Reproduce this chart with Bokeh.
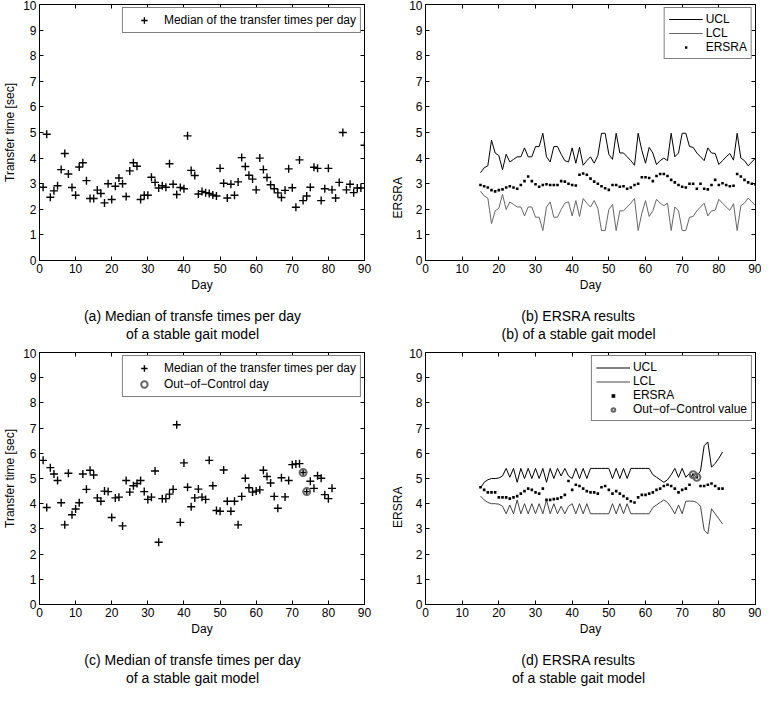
from bokeh.plotting import figure
from bokeh.layouts import column, row
from bokeh.models import (LinearAxis, Range1d, FixedTicker, Legend, LegendItem,
                          Title, CustomJSTickFormatter)
from bokeh.embed import file_html
from bokeh.resources import INLINE

FONT = "Liberation Sans"

x_ticks = [0, 10, 20, 30, 40, 50, 60, 70, 80, 90]
y_ticks = [0, 1, 2, 3, 4, 5, 6, 7, 8, 9, 10]

# ---------------- (a) ----------------
days_a = list(range(1, 91))
median_a = [2.86, 4.93, 2.47, 2.72, 2.92, 3.55, 4.18, 3.38, 2.85, 2.55,
            3.65, 3.82, 3.12, 2.42, 2.42, 2.75, 2.62, 2.25, 3.0, 2.38,
            2.9, 3.22, 3.0, 2.5, 3.5, 3.82, 3.68, 2.38, 2.55, 2.55,
            3.25, 3.05, 2.83, 2.92, 2.86, 3.78, 2.98, 2.58, 2.85, 2.8,
            4.87, 3.52, 3.32, 2.6, 2.7, 2.65, 2.62, 2.56, 2.52, 3.6,
            3.02, 2.44, 2.98, 2.55, 3.07, 4.02, 3.67, 3.33, 3.18, 2.76,
            4.0, 3.55, 3.24, 2.96, 2.8, 2.64, 2.46, 2.74, 3.58, 2.84,
            2.08, 3.93, 2.34, 2.52, 2.86, 3.64, 3.6, 2.34, 2.8, 3.6,
            2.76, 2.44, 3.05, 5.0, 2.76, 2.98, 2.65, 2.83, 2.83, 4.5]

# ---------------- (b) ----------------
days_b = list(range(15, 91))
ucl_b = [3.43, 3.62, 3.7, 4.7, 4.2, 4.1, 3.55, 4.15, 3.85, 3.95,
         4.05, 4.05, 4.4, 4.05, 4.05, 4.45, 4.45, 4.97, 4.05, 3.85,
         4.45, 4.45, 4.15, 3.9, 3.85, 4.4, 3.8, 4.42, 3.72, 3.9,
         4.05, 3.8, 4.1, 4.97, 4.97, 4.15, 3.95, 4.97, 4.2, 4.2,
         4.05, 3.9, 3.72, 4.97, 4.3, 3.8, 4.42, 4.2, 3.75, 3.9,
         4.0, 3.9, 4.97, 4.05, 4.2, 4.97, 4.97, 4.45, 4.42, 4.2,
         4.05, 3.9, 4.4, 4.2, 4.18, 3.75, 3.9, 4.05, 4.18, 3.92,
         4.97, 4.0, 3.9, 3.7, 3.85, 4.0]
lcl_b = [2.71, 2.52, 2.44, 1.44, 1.94, 2.04, 2.59, 1.99, 2.29, 2.19,
         2.09, 2.09, 1.74, 2.09, 2.09, 1.69, 1.69, 1.17, 2.09, 2.29,
         1.69, 1.69, 1.99, 2.24, 2.29, 1.74, 2.34, 1.72, 2.42, 2.24,
         2.09, 2.34, 2.04, 1.17, 1.17, 1.99, 2.19, 1.17, 1.94, 1.94,
         2.09, 2.24, 2.42, 1.17, 1.84, 2.34, 1.72, 1.94, 2.39, 2.24,
         2.14, 2.24, 1.17, 2.09, 1.94, 1.17, 1.17, 1.69, 1.72, 1.94,
         2.09, 2.24, 1.74, 1.94, 1.96, 2.39, 2.24, 2.09, 1.96, 2.22,
         1.17, 2.14, 2.24, 2.44, 2.29, 2.14]
ersra_b = [2.95, 2.9, 2.85, 2.75, 2.7, 2.75, 2.78, 2.85, 2.9, 2.85,
           2.8, 2.95, 3.1, 3.28, 3.1, 2.98, 2.88, 2.95, 2.98, 2.95,
           2.95, 2.95, 3.1, 3.08, 3.0, 2.95, 2.93, 3.35, 3.4, 3.35,
           3.2, 3.08, 3.0, 2.9, 2.82, 2.76, 2.95, 2.95, 2.88, 2.9,
           2.8, 2.85, 2.95, 3.0, 3.25, 3.25, 3.22, 3.1, 3.3, 3.38,
           3.38, 3.3, 3.15, 3.05, 2.95, 2.88, 2.85, 3.0, 3.0, 2.8,
           3.0, 2.8, 2.78, 2.95, 3.15, 2.95, 3.02, 2.95, 2.9, 2.92,
           3.38, 3.28, 3.15, 3.05, 3.0, 2.97]

# ---------------- (c) ----------------
days_c = list(range(1, 82))
median_c = [5.72, 3.85, 5.43, 5.18, 4.92, 4.04, 3.16, 5.21, 3.56, 3.79,
            4.04, 5.18, 4.57, 5.33, 5.14, 4.23, 4.1, 4.5, 4.48, 3.45,
            4.23, 4.26, 3.12, 4.92, 4.46, 4.71, 4.8, 4.92, 4.48, 4.17,
            4.26, 5.3, 2.47, 4.2, 4.2, 4.38, 4.57, 7.13, 3.26, 5.62,
            4.65, 3.88, 4.23, 4.58, 4.26, 4.17, 5.72, 4.71, 3.73, 3.7,
            5.34, 4.1, 3.7, 4.1, 3.16, 4.29, 5.01, 4.63, 4.46, 4.5,
            4.55, 5.33, 5.08, 4.82, 4.29, 3.82, 5.03, 4.27, 4.92, 5.55,
            5.58, 5.59, 5.24, 4.48, 4.89, 4.61, 5.11, 5.01, 4.36, 4.2,
            4.61]
ooc_days_c = [73, 74]
ooc_vals_c = [5.24, 4.48]

# ---------------- (d) ----------------
days_d = list(range(15, 82))
ucl_d = [4.62, 4.85, 4.95, 5.0, 5.0, 5.02, 5.1, 5.4, 5.05, 5.4,
         4.85, 5.4, 5.0, 5.4, 5.0, 5.4, 5.0, 5.4, 4.85, 5.4,
         5.0, 5.4, 5.1, 5.4, 5.1, 5.0, 5.4, 5.0, 5.4, 5.0,
         5.4, 5.4, 5.4, 5.4, 5.4, 5.4, 5.0, 5.4, 5.0, 5.4,
         5.0, 5.4, 5.4, 5.4, 5.4, 5.4, 5.4, 5.15, 5.05, 4.95,
         4.85, 4.95, 5.15, 5.4, 5.05, 5.4, 5.05, 5.2, 5.0, 5.1,
         5.3, 6.3, 6.45, 5.45, 5.6, 5.8, 6.05]
lcl_d = [4.3, 4.15, 4.05, 4.0, 4.0, 3.98, 3.9, 3.6, 3.95, 3.6,
         4.15, 3.6, 4.0, 3.6, 4.0, 3.6, 4.0, 3.6, 4.15, 3.6,
         4.0, 3.6, 3.9, 3.6, 3.9, 4.0, 3.6, 4.0, 3.6, 4.0,
         3.6, 3.6, 3.6, 3.6, 3.6, 3.6, 4.0, 3.6, 4.0, 3.6,
         4.0, 3.6, 3.6, 3.6, 3.6, 3.6, 3.6, 3.85, 3.95, 4.05,
         4.15, 4.05, 3.85, 3.6, 3.95, 3.6, 4.1, 4.1, 4.1, 4.05,
         3.9, 2.95, 2.8, 3.8, 3.6, 3.4, 3.2]
ersra_d = [4.65, 4.55, 4.45, 4.45, 4.45, 4.25, 4.25, 4.25, 4.2, 4.25,
           4.3, 4.4, 4.5, 4.6, 4.55, 4.45, 4.4, 4.6, 4.15, 4.15,
           4.18, 4.2, 4.25, 4.35, 4.9, 4.55, 4.75, 4.7, 4.6, 4.5,
           4.45, 4.45, 4.4, 4.65, 4.7, 4.55, 4.4, 4.5, 4.4, 4.3,
           4.2, 4.1, 4.05, 4.25, 4.35, 4.35, 4.4, 4.45, 4.55, 4.6,
           4.7, 4.75, 4.7, 4.6, 4.45, 4.55, 4.6, 4.75, 5.15, 5.05,
           4.7, 4.7, 4.75, 4.8, 4.7, 4.6, 4.6]
ooc_days_d = [73, 74]
ooc_vals_d = [5.15, 5.05]

captions = {
    "a": ["(a) Median of transfe times per day", "of a stable gait model"],
    "b": ["(b) ERSRA results", "(b) of a stable gait model"],
    "c": ["(c) Median of transfe times per day", "of a stable gait model"],
    "d": ["(d) ERSRA results", "of a stable gait model"],
}

FW, FH = 330, 256
CAP_SIZE = 14
CAP_CENTER = 153  # caption centre, px right of the frame's left edge

# Arial / Liberation Sans advance widths (per 1000 em) for text centring
_W = {"(": 333, ")": 333, " ": 278, "a": 556, "b": 556, "c": 500, "d": 556,
      "e": 556, "f": 278, "g": 556, "i": 222, "l": 222, "m": 833, "n": 556,
      "o": 556, "p": 556, "r": 333, "s": 500, "t": 278, "u": 556, "y": 500,
      "M": 833, "E": 667, "R": 722, "S": 667, "A": 667}


def text_width(s, size):
    return sum(_W.get(ch, 556) for ch in s) * size / 1000.0


def style_axis(ax, ticks):
    ax.ticker = FixedTicker(ticks=ticks)
    ax.major_tick_in = 4
    ax.major_tick_out = 0
    ax.minor_tick_line_color = None
    ax.axis_line_color = "black"
    ax.axis_line_width = 1
    ax.major_tick_line_color = "black"
    ax.major_label_text_font = FONT
    ax.major_label_text_font_size = "12px"
    ax.major_label_text_color = "black"
    ax.axis_label_text_font = FONT
    ax.axis_label_text_font_size = "12px"
    ax.axis_label_text_font_style = "normal"
    ax.axis_label_text_color = "black"


def make_fig(left, right, bottom, ylabel, caption, ylabel_center=None):
    p = figure(width=left + FW + right, height=4 + FH + bottom,
               x_range=Range1d(0, 90), y_range=Range1d(0, 10),
               output_backend="svg", toolbar_location=None,
               min_border_left=left, min_border_right=right,
               min_border_top=4, min_border_bottom=bottom)
    p.grid.visible = False
    p.outline_line_color = "black"
    p.outline_line_width = 1
    p.background_fill_color = "white"
    p.border_fill_color = "white"
    style_axis(p.xaxis[0], x_ticks)
    style_axis(p.yaxis[0], y_ticks)
    p.xaxis[0].axis_label = "Day"
    p.xaxis[0].major_label_standoff = 3
    p.xaxis[0].axis_label_standoff = 2
    p.yaxis[0].major_label_standoff = 3
    if ylabel_center is None:
        p.yaxis[0].axis_label = ylabel
        p.yaxis[0].axis_label_standoff = 3
    else:
        # y label placed off-centre (as in the original figure)
        off = ylabel_center * FH / 10.0 - text_width(ylabel, 12) / 2.0
        p.add_layout(Title(text=ylabel, align="left", offset=off, standoff=3,
                           vertical_align="bottom", text_font=FONT,
                           text_font_size="12px", text_font_style="normal",
                           text_color="black"), "left")
    for side, ticks in (("right", y_ticks), ("above", x_ticks)):
        ax = LinearAxis(formatter=CustomJSTickFormatter(code="return ''"))
        style_axis(ax, ticks)
        ax.major_label_text_font_size = "0px"
        ax.major_label_standoff = 0
        p.add_layout(ax, side)
    # gap between the "Day" label and the caption
    p.add_layout(Title(text=" ", text_font_size="1px", standoff=9), "below")
    for line in caption:
        off = CAP_CENTER - text_width(line, CAP_SIZE) / 2.0
        p.add_layout(Title(text=line, align="left", offset=off, standoff=0,
                           vertical_align="middle", text_font=FONT,
                           text_font_size="%dpx" % CAP_SIZE,
                           text_font_style="normal", text_color="black"),
                     "below")
    return p


def make_legend(items, glyph_h):
    return Legend(items=items, location="top_right", margin=3,
                  padding=4, spacing=0, label_height=14, glyph_height=glyph_h,
                  glyph_width=34, label_standoff=3,
                  label_text_font=FONT, label_text_font_size="12px",
                  label_text_color="black",
                  border_line_color="black", border_line_width=1,
                  background_fill_color="white", background_fill_alpha=1)


# (a)
pa = make_fig(34, 10, 88, "Transfer time [sec]", captions["a"])
ra = pa.scatter(days_a, median_a, marker="cross", size=8, line_color="black",
                line_width=1.4)
pa.add_layout(make_legend([LegendItem(label="Median of the transfer times per day",
                                      renderers=[ra])], 16))

# (b)
pb = make_fig(51, 6, 88, "ERSRA", captions["b"], ylabel_center=2.45)
rb1 = pb.line(days_b, ucl_b, line_color="black", line_width=1)
rb2 = pb.line(days_b, lcl_b, line_color="#666666", line_width=1)
rb3 = pb.scatter(days_b, ersra_b, marker="square", size=2.6, fill_color="black",
                 line_color=None)
pb.add_layout(make_legend([LegendItem(label="UCL", renderers=[rb1]),
                           LegendItem(label="LCL", renderers=[rb2]),
                           LegendItem(label="ERSRA", renderers=[rb3])], 6))

# (c)
pc = make_fig(34, 10, 78, "Transfer time [sec]", captions["c"])
rc1 = pc.scatter(days_c, median_c, marker="cross", size=8, line_color="black",
                 line_width=1.4)
rc2 = pc.scatter(ooc_days_c, ooc_vals_c, marker="circle", size=7,
                 line_color="#666666", line_width=2, fill_color=None)
pc.add_layout(make_legend([LegendItem(label="Median of the transfer times per day",
                                      renderers=[rc1]),
                           LegendItem(label="Out\u2212of\u2212Control day",
                                      renderers=[rc2])], 16))

# (d)
pd_ = make_fig(51, 6, 78, "ERSRA", captions["d"], ylabel_center=3.8)
rd1 = pd_.line(days_d, ucl_d, line_color="black", line_width=1)
rd2 = pd_.line(days_d, lcl_d, line_color="#444444", line_width=1)
rd3 = pd_.scatter(days_d, ersra_d, marker="square", size=2.6, fill_color="black",
                  line_color=None)
rd4 = pd_.scatter(ooc_days_d, ooc_vals_d, marker="circle", size=7,
                  line_color="#666666", line_width=2, fill_color=None)
pd_.add_layout(make_legend([LegendItem(label="UCL", renderers=[rd1]),
                            LegendItem(label="LCL", renderers=[rd2]),
                            LegendItem(label="ERSRA", renderers=[rd3]),
                            LegendItem(label="Out\u2212of\u2212Control value",
                                       renderers=[rd4])], 9))

layout = column(row(pa, pb), row(pc, pd_))
open("out.html", "w").write(file_html(layout, INLINE))
